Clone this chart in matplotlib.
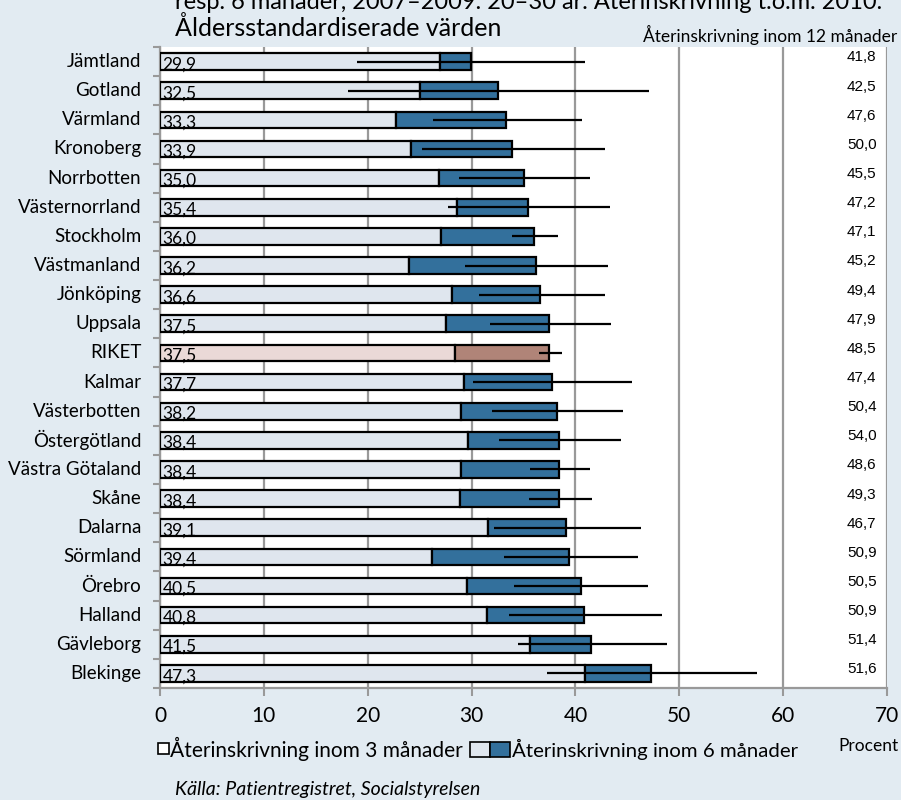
import matplotlib
matplotlib.use("Agg")
import matplotlib.pyplot as plt
from matplotlib import font_manager
from matplotlib.patches import Rectangle

regions = ["Jämtland", "Gotland", "Värmland", "Kronoberg", "Norrbotten",
           "Västernorrland", "Stockholm", "Västmanland", "Jönköping", "Uppsala",
           "RIKET", "Kalmar", "Västerbotten", "Östergötland", "Västra Götaland",
           "Skåne", "Dalarna", "Sörmland", "Örebro", "Halland", "Gävleborg", "Blekinge"]
six_month = [29.9, 32.5, 33.3, 33.9, 35.0, 35.4, 36.0, 36.2, 36.6, 37.5, 37.5,
             37.7, 38.2, 38.4, 38.4, 38.4, 39.1, 39.4, 40.5, 40.8, 41.5, 47.3]
three_month = [27.0, 25.0, 22.7, 24.2, 26.9, 28.6, 27.1, 24.0, 28.1, 27.5, 28.4,
               29.3, 29.0, 29.7, 29.0, 28.9, 31.6, 26.2, 29.6, 31.5, 35.6, 40.9]
ci_low = [19.0, 18.1, 26.3, 25.2, 28.8, 27.7, 33.9, 29.4, 30.7, 31.8, 36.5,
          30.1, 32.0, 32.6, 35.6, 35.5, 32.2, 33.1, 34.1, 33.6, 34.5, 37.3]
ci_high = [40.9, 47.1, 40.6, 42.8, 41.4, 43.3, 38.3, 43.1, 42.8, 43.4, 38.7,
           45.4, 44.6, 44.4, 41.4, 41.6, 46.3, 46.0, 47.0, 48.3, 48.8, 57.5]
twelve_month = [41.8, 42.5, 47.6, 50.0, 45.5, 47.2, 47.1, 45.2, 49.4, 47.9, 48.5,
                47.4, 50.4, 54.0, 48.6, 49.3, 46.7, 50.9, 50.5, 50.9, 51.4, 51.6]
x_ticks = [0, 10, 20, 30, 40, 50, 60, 70]

available = {f.name for f in font_manager.fontManager.ttflist}
main_font = "Liberation Sans Narrow" if "Liberation Sans Narrow" in available else "Lato"
num_font = "Liberation Sans"

BG = "#e2ebf2"
LIGHT = "#dfe6ee"
DARK = "#33709c"
LIGHT_R = "#ead9d7"
DARK_R = "#b08478"
GRID = "#999999"

fig = plt.figure(figsize=(9.01, 8), dpi=100, facecolor=BG)
ax = fig.add_axes([160 / 901, 1 - 688 / 800, 727 / 901, 641 / 800])
ax.set_facecolor("white")

n = len(regions)
ys = list(range(n))
h = 0.57
for i in ys:
    is_riket = regions[i] == "RIKET"
    lc = LIGHT_R if is_riket else LIGHT
    dc = DARK_R if is_riket else DARK
    ax.barh(i, three_month[i], height=h, color=lc, edgecolor="black", linewidth=1.6, zorder=3)
    ax.barh(i, six_month[i] - three_month[i], left=three_month[i], height=h,
            color=dc, edgecolor="black", linewidth=1.6, zorder=3)
    ax.plot([ci_low[i], ci_high[i]], [i, i], color="black", lw=1.6, zorder=4,
            solid_capstyle="butt")
    ax.text(0.25, i + h / 2 - 0.02, f"{six_month[i]:.1f}".replace(".", ","),
            fontsize=12.5, family=main_font, ha="left", va="baseline", zorder=5)
    ax.text(69.0, i - 0.14, f"{twelve_month[i]:.1f}".replace(".", ","),
            fontsize=11, family=num_font, ha="right", va="center", zorder=5)

ax.set_xlim(0, 70)
ax.set_ylim(n - 0.5, -0.5)
ax.set_xticks(x_ticks)
ax.set_xticklabels([str(t) for t in x_ticks], fontsize=15, family=main_font)
ax.set_yticks([i - 0.5 for i in range(n + 1)])
ax.set_yticklabels([])
ax.tick_params(axis="y", length=5, width=1.5, color=GRID, left=True)
ax.tick_params(axis="x", length=6, width=1.5, color=GRID, pad=7)
for i, r in enumerate(regions):
    ax.text(-1.8, i, r, fontsize=13.5, family=main_font, ha="right", va="center")

ax.grid(axis="x", color=GRID, lw=1.6, zorder=1)
ax.set_axisbelow(True)
for s in ["top", "right"]:
    ax.spines[s].set_visible(False)
ax.spines["left"].set_color(GRID)
ax.spines["left"].set_linewidth(1.6)
ax.spines["bottom"].set_color(GRID)
ax.spines["bottom"].set_linewidth(1.6)

# Titles
fig.text(175 / 901, 1 - 9 / 800,
         "resp. 6 månader, 2007–2009. 20–30 år. Återinskrivning t.o.m. 2010.",
         fontsize=17, family=main_font, ha="left", va="baseline")
fig.text(175 / 901, 1 - 36 / 800, "Åldersstandardiserade värden",
         fontsize=18, family=main_font, ha="left", va="baseline")
fig.text(897 / 901, 1 - 35 / 800, "Återinskrivning inom 12 månader",
         fontsize=12.5, family=main_font, ha="right", va="center")

# Legend
def fig_rect(x0, y0, w, hh, fc):
    fig.patches.append(Rectangle((x0 / 901, 1 - (y0 + hh) / 800), w / 901, hh / 800,
                                 transform=fig.transFigure, facecolor=fc,
                                 edgecolor="black", linewidth=1.2))

fig_rect(158, 743, 11, 11, "white")
fig.text(170 / 901, 1 - 749 / 800, "Återinskrivning inom 3 månader",
         fontsize=15, family=main_font, ha="left", va="center")
fig_rect(470, 742, 20, 15, LIGHT)
fig_rect(490, 742, 20, 15, DARK)
fig.text(512 / 901, 1 - 749 / 800, "Återinskrivning inom 6 månader",
         fontsize=14.7, family=main_font, ha="left", va="center")
fig.text(898 / 901, 1 - 746 / 800, "Procent", fontsize=12.5, family=main_font,
         ha="right", va="center")
fig.text(175 / 901, 1 - 789 / 800, "Källa: Patientregistret, Socialstyrelsen",
         fontsize=14, family=main_font, style="italic", ha="left", va="center")

fig.savefig("out.png", dpi=100, facecolor=BG)
